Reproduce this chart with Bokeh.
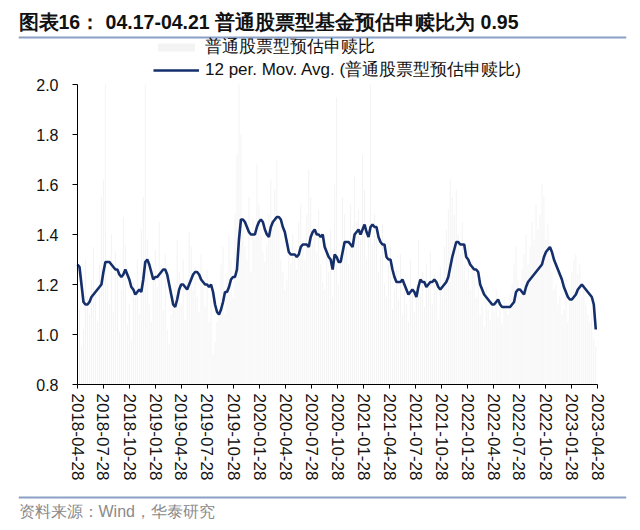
import pandas as pd
from bokeh.plotting import figure
from bokeh.models import (Range1d, FixedTicker, DatetimeTickFormatter, Legend, LegendItem,
                          ColumnDataSource, PrintfTickFormatter, LinearAxis, DatetimeAxis, Title)
from bokeh.embed import file_html
from bokeh.resources import INLINE

# ---------------- data ----------------
TITLE = "图表16：  04.17-04.21 普通股票型基金预估申赎比为 0.95"
SOURCE_TEXT = "资料来源：Wind，华泰研究"
SERIES_BAR = "普通股票型预估申赎比"
SERIES_MA = "12 per. Mov. Avg. (普通股票型预估申赎比)"

START_DATE = "2018-04-28"
AXIS_END = "2023-04-28"
TICK_DATES = ["2018-04-28", "2018-07-28", "2018-10-28", "2019-01-28", "2019-04-28",
              "2019-07-28", "2019-10-28", "2020-01-28", "2020-04-28", "2020-07-28",
              "2020-10-28", "2021-01-28", "2021-04-28", "2021-07-28", "2021-10-28",
              "2022-01-28", "2022-04-28", "2022-07-28", "2022-10-28", "2023-01-28",
              "2023-04-28"]
Y_MIN, Y_MAX = 0.8, 2.0
Y_TICKS = [0.8, 1.0, 1.2, 1.4, 1.6, 1.8, 2.0]

# weekly estimated subscription/redemption ratio (bars; 2.0 = reaches top of the chart)
RATIO = [
    1.45, 1.10, 0.95, 1.02, 1.30, 1.15, 1.08, 1.22, 1.35, 1.18,
    1.05, 1.28, 1.55, 1.62, 2.00, 1.20, 1.12, 1.40, 1.09, 1.33,
    1.25, 1.01, 1.18, 1.47, 1.36, 1.04, 1.12, 0.98, 1.21, 1.15,
    1.30, 1.08, 1.42, 1.55, 2.00, 1.38, 1.12, 1.05, 1.26, 1.34,
    1.19, 1.45, 1.28, 1.10, 1.32, 1.02, 0.96, 1.08, 1.15, 1.20,
    1.38, 1.25, 1.12, 1.30, 1.06, 1.22, 1.41, 1.35, 1.18, 1.27,
    1.15, 1.09, 1.32, 1.20, 1.11, 1.26, 1.05, 1.14, 0.92, 0.97,
    1.05, 1.10, 1.28, 1.35, 1.08, 1.22, 1.40, 1.30, 1.15, 1.48,
    1.72, 2.00, 1.80, 1.42, 1.35, 1.30, 1.55, 1.25, 1.46, 1.38,
    1.68, 1.52, 1.40, 1.33, 1.29, 1.36, 1.48, 1.62, 1.45, 1.58,
    1.70, 1.42, 1.30, 1.25, 1.18, 1.22, 1.35, 1.28, 1.40, 1.31,
    1.26, 1.45, 1.52, 1.38, 1.30, 1.48, 1.66, 1.55, 1.36, 1.42,
    1.33, 1.50, 1.28, 1.21, 1.18, 1.36, 1.25, 1.42, 1.15, 1.60,
    1.95, 1.20, 1.30, 1.55, 1.48, 1.35, 1.28, 1.52, 1.40, 1.63,
    1.45, 1.50, 1.38, 1.72, 1.58, 1.30, 1.42, 2.00, 1.36, 1.48,
    1.39, 1.25, 1.31, 1.44, 1.20, 1.15, 1.28, 1.36, 1.10, 1.18,
    1.26, 1.14, 1.32, 1.08, 1.22, 1.12, 1.05, 1.30, 1.17, 1.09,
    1.20, 1.38, 1.16, 1.25, 1.11, 1.28, 1.19, 1.33, 1.12, 1.24,
    1.18, 1.06, 1.27, 1.15, 1.35, 1.42, 1.50, 1.62, 1.55, 1.48,
    1.58, 1.40, 1.32, 1.45, 1.28, 1.22, 1.36, 1.18, 1.30, 1.25,
    1.15, 1.21, 1.08, 1.12, 1.03, 1.19, 1.10, 1.06, 1.14, 1.09,
    1.18, 1.07, 1.12, 1.04, 1.15, 1.10, 1.08, 1.16, 1.20, 1.28,
    1.35, 1.22, 1.15, 1.26, 1.32, 1.40, 1.28, 1.35, 1.45, 1.38,
    1.52, 1.42, 1.48, 1.60, 1.55, 1.38, 1.44, 1.30, 1.25, 1.18,
    1.20, 1.12, 1.15, 1.08, 1.10, 1.22, 1.05, 1.18, 1.25, 1.30,
    1.32, 1.24, 1.28, 1.15, 1.20, 1.12, 1.08, 1.05, 1.10, 0.98,
    0.95,
]

# 12-period moving average (line)
MA12 = [
    1.28, 1.27, 1.20, 1.13, 1.12, 1.12, 1.13, 1.15, 1.16, 1.17,
    1.18, 1.19, 1.20, 1.25, 1.29, 1.29, 1.29, 1.28, 1.27, 1.26,
    1.26, 1.24, 1.23, 1.24, 1.26, 1.24, 1.22, 1.19, 1.18, 1.16,
    1.17, 1.18, 1.17, 1.22, 1.29, 1.30, 1.28, 1.25, 1.22, 1.23,
    1.23, 1.24, 1.25, 1.26, 1.26, 1.24, 1.20, 1.16, 1.12, 1.11,
    1.14, 1.18, 1.20, 1.20, 1.19, 1.18, 1.20, 1.22, 1.24, 1.25,
    1.25, 1.24, 1.22, 1.21, 1.20, 1.20, 1.19, 1.20, 1.17, 1.12,
    1.09, 1.08, 1.10, 1.13, 1.17, 1.17, 1.19, 1.22, 1.23, 1.23,
    1.26, 1.38, 1.46, 1.46, 1.45, 1.43, 1.41, 1.40, 1.40, 1.40,
    1.43, 1.45, 1.46, 1.45, 1.42, 1.40, 1.39, 1.43, 1.45, 1.46,
    1.47, 1.47, 1.46, 1.43, 1.41, 1.37, 1.33, 1.32, 1.32, 1.32,
    1.31, 1.32, 1.35, 1.36, 1.36, 1.36, 1.35, 1.39, 1.41, 1.42,
    1.40, 1.40, 1.39, 1.40, 1.35, 1.33, 1.31, 1.30, 1.26, 1.32,
    1.31, 1.29, 1.29, 1.33, 1.37, 1.37, 1.37, 1.36, 1.35, 1.40,
    1.41, 1.42, 1.40, 1.42, 1.44, 1.41, 1.39, 1.43, 1.44, 1.43,
    1.43, 1.39, 1.37, 1.36, 1.36, 1.31, 1.30, 1.30, 1.26, 1.23,
    1.21, 1.21, 1.21, 1.22, 1.20, 1.18, 1.16, 1.17, 1.18, 1.17,
    1.15, 1.19, 1.22, 1.21, 1.21, 1.19, 1.20, 1.21, 1.21, 1.22,
    1.21, 1.19, 1.18, 1.19, 1.20, 1.21, 1.23, 1.27, 1.31, 1.34,
    1.37, 1.37, 1.36, 1.36, 1.36, 1.31, 1.30, 1.28, 1.27, 1.26,
    1.26, 1.25, 1.20, 1.18, 1.16, 1.15, 1.14, 1.13, 1.12, 1.12,
    1.13, 1.14, 1.12, 1.11, 1.11, 1.11, 1.11, 1.11, 1.12, 1.13,
    1.17, 1.18, 1.18, 1.17, 1.16, 1.19, 1.21, 1.22, 1.23, 1.24,
    1.25, 1.26, 1.27, 1.28, 1.31, 1.33, 1.34, 1.35, 1.33, 1.30,
    1.28, 1.26, 1.24, 1.22, 1.19, 1.17, 1.15, 1.14, 1.14, 1.15,
    1.16, 1.18, 1.19, 1.20, 1.19, 1.18, 1.17, 1.16, 1.15, 1.12,
    1.02,
]

# ---------------- layout / styles ----------------
FONT = "Liberation Sans"
NAVY = "#142f6b"
BAR_GRAY = "#f3f3f3"
SEP_BLUE = "#8aa0c6"

FIG_W, FIG_H = 640, 530          # canvas px (the canvas starts at the page's top-left)
FRAME_L, FRAME_R = 18, 626       # frame edges in canvas px
FRAME_T, FRAME_B = 34, 500
AX_L, AX_R = 77, 597             # chart area (axis extents) in canvas px
AX_T, AX_B = 84, 384


def ms(d):
    return pd.Timestamp(d).value // 10**6


X0, X1 = ms(START_DATE), ms(AXIS_END)
PX_X = (X1 - X0) / (AX_R - AX_L)
PX_Y = (Y_MAX - Y_MIN) / (AX_B - AX_T)


def xpx(px):
    return X0 + (px - AX_L) * PX_X


def ypx(py):
    return Y_MAX - (py - AX_T) * PX_Y


dates = pd.date_range(START_DATE, periods=len(RATIO), freq="7D")
src = ColumnDataSource(dict(date=dates, ratio=RATIO, ma=MA12))

p = figure(width=FIG_W, height=FIG_H, x_axis_type="datetime",
           x_range=Range1d(xpx(FRAME_L), xpx(FRAME_R)),
           y_range=Range1d(ypx(FRAME_B), ypx(FRAME_T)),
           x_axis_location=None, y_axis_location=None,
           min_border_left=FRAME_L, min_border_right=FIG_W - FRAME_R,
           min_border_top=FRAME_T, min_border_bottom=FIG_H - FRAME_B,
           toolbar_location=None, output_backend="svg")
p.grid.visible = False
p.outline_line_color = None

bars = p.vbar(x="date", top="ratio", bottom=Y_MIN, width=3.5 * 86400000, source=src,
              fill_color=BAR_GRAY, line_color=None)
line = p.line(x="date", y="ma", source=src, line_color=NAVY, line_width=2.6)

xa = DatetimeAxis(fixed_location=Y_MIN, bounds=(X0, X1))
xa.ticker = FixedTicker(ticks=[ms(d) for d in TICK_DATES])
xa.formatter = DatetimeTickFormatter(days="%Y-%m-%d", months="%Y-%m-%d", years="%Y-%m-%d",
                                     hours="%Y-%m-%d", minutes="%Y-%m-%d")
xa.major_label_orientation = "vertical"
xa.major_tick_in = 0
xa.major_tick_out = 4
xa.major_label_standoff = 5
xa.major_label_text_font_size = "17px"
ya = LinearAxis(fixed_location=X0, bounds=(Y_MIN, Y_MAX))
ya.ticker = FixedTicker(ticks=Y_TICKS)
ya.formatter = PrintfTickFormatter(format="%.1f")
ya.major_tick_in = 0
ya.major_tick_out = 5
ya.major_label_standoff = 14
ya.major_label_text_font_size = "16px"
for ax in (xa, ya):
    ax.minor_tick_line_color = None
    ax.axis_line_color = "#000000"
    ax.major_tick_line_color = "#000000"
    ax.major_label_text_font = FONT
    ax.major_label_text_color = "#111111"
p.add_layout(xa, "below")
p.add_layout(ya, "left")

# separators (inside the frame, at its top and bottom edges)
p.segment(x0=[xpx(FRAME_L)], x1=[xpx(FRAME_R)], y0=[ypx(FRAME_T + 3)], y1=[ypx(FRAME_T + 3)],
          line_color=SEP_BLUE, line_width=2)
p.segment(x0=[xpx(FRAME_L)], x1=[xpx(FRAME_R)], y0=[ypx(FRAME_B - 3)], y1=[ypx(FRAME_B - 3)],
          line_color=SEP_BLUE, line_width=2)

legend = Legend(items=[LegendItem(label=SERIES_BAR, renderers=[bars]),
                       LegendItem(label=SERIES_MA, renderers=[line])],
                location=(153 - FRAME_L, FRAME_B - 81), orientation="vertical",
                glyph_width=46, glyph_height=10, label_height=10, spacing=0,
                padding=0, margin=0, label_standoff=6,
                border_line_color=None, background_fill_alpha=0,
                label_text_font=FONT, label_text_font_size="17px",
                label_text_color="#111111")
p.add_layout(legend)

p.title = Title(text=TITLE, align="left", text_font=FONT, text_font_style="bold",
                text_font_size="19.5px", text_color="#111111", standoff=3)
p.add_layout(Title(text=SOURCE_TEXT, align="left", text_font=FONT, text_font_style="normal",
                   text_font_size="16px", text_color="#8a8a8a", standoff=0), "below")

open("out.html", "w").write(file_html(p, INLINE))
